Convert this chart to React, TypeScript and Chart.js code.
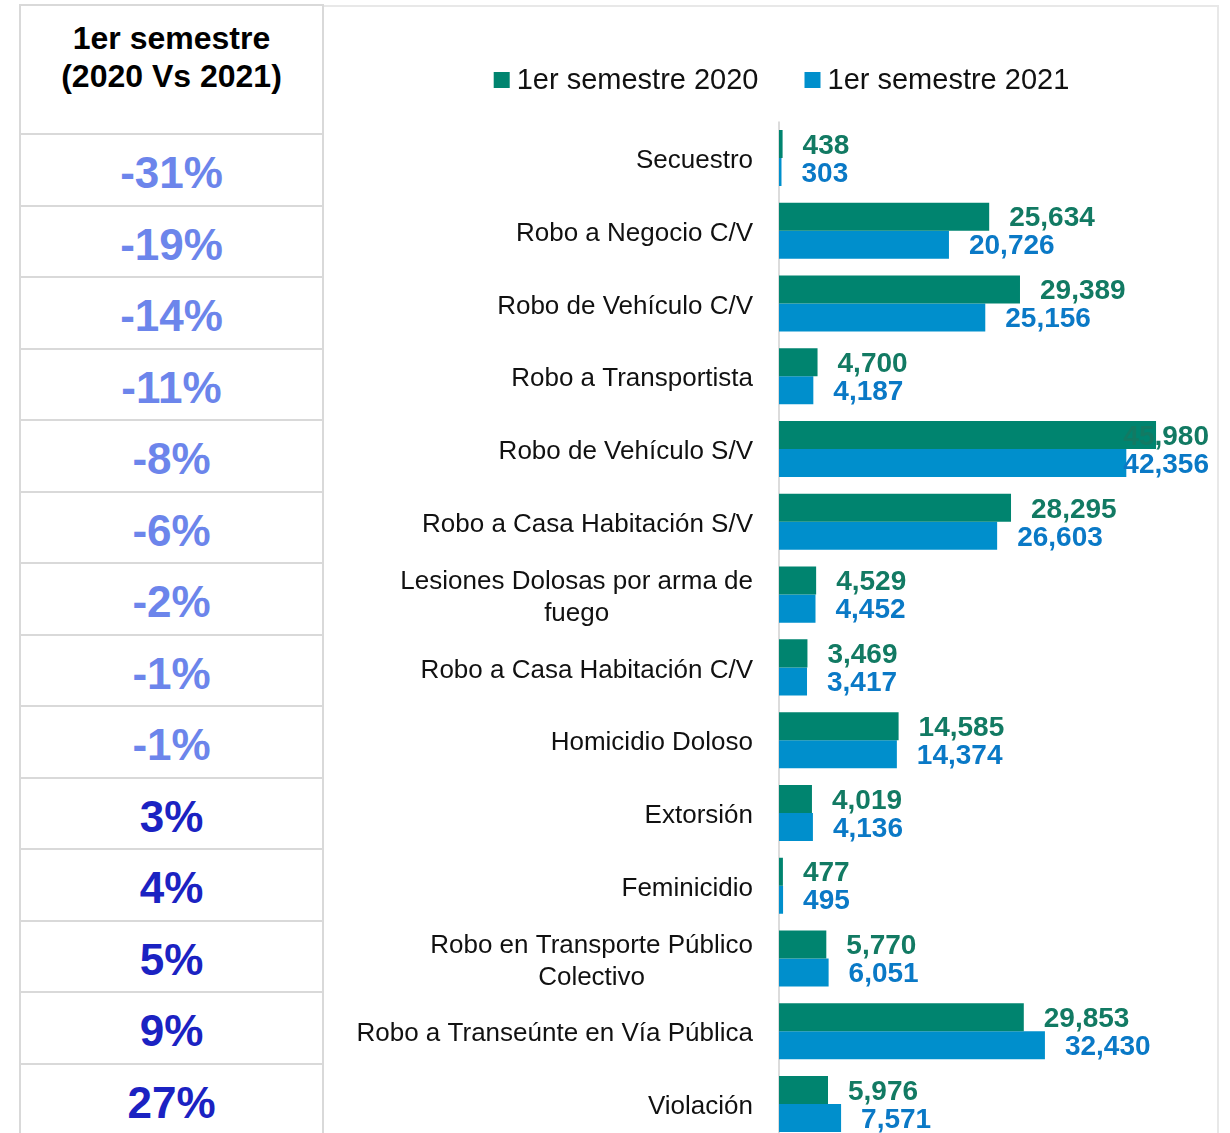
import React, { useEffect, useRef } from "react";
import { Chart, registerables } from "chart.js";

Chart.register(...registerables);

const categories: (string | string[])[] = [
  "Secuestro",
  "Robo a Negocio C/V",
  "Robo de Vehículo C/V",
  "Robo a Transportista",
  "Robo de Vehículo S/V",
  "Robo a Casa Habitación S/V",
  ["Lesiones Dolosas por arma de", "fuego"],
  "Robo a Casa Habitación C/V",
  "Homicidio Doloso",
  "Extorsión",
  "Feminicidio",
  ["Robo en Transporte Público", "Colectivo"],
  "Robo a Transeúnte en Vía Pública",
  "Violación",
];

const series2020 = [438, 25634, 29389, 4700, 45980, 28295, 4529, 3469, 14585, 4019, 477, 5770, 29853, 5976];
const series2021 = [303, 20726, 25156, 4187, 42356, 26603, 4452, 3417, 14374, 4136, 495, 6051, 32430, 7571];

const seriesLabels = ["1er semestre 2020", "1er semestre 2021"];

const tableHeader = ["1er semestre", "(2020 Vs 2021)"];
const changeLabels = ["-31%", "-19%", "-14%", "-11%", "-8%", "-6%", "-2%", "-1%", "-1%", "3%", "4%", "5%", "9%", "27%"];

const xMax = 50000;

const FONT = '"Liberation Sans", Arial, Helvetica, sans-serif';
const GREEN = "#00846f";
const BLUE = "#008fcc";
const GREEN_TXT = "#127a63";
const BLUE_TXT = "#0a79c6";

const customPlugin = {
  id: "customDraw",
  beforeDatasetsDraw(chart: any) {
    const { ctx, chartArea } = chart;
    ctx.save();
    ctx.strokeStyle = "#dcdcdc";
    ctx.lineWidth = 2;
    ctx.beginPath();
    ctx.moveTo(chartArea.left, chartArea.top);
    ctx.lineTo(chartArea.left, chartArea.bottom);
    ctx.stroke();
    ctx.restore();
  },
  afterDatasetsDraw(chart: any) {
    const { ctx, chartArea } = chart;
    const yScale = chart.scales.y;
    ctx.save();
    // category labels
    ctx.font = `26px ${FONT}`;
    ctx.fillStyle = "#111";
    ctx.textBaseline = "middle";
    const rightX = chartArea.left - 26;
    chart.data.labels.forEach((lab: any, i: number) => {
      const cy = yScale.getPixelForValue(i);
      const lines: string[] = Array.isArray(lab) ? lab : [lab];
      const lh = 32;
      const widths = lines.map((l) => ctx.measureText(l).width);
      const maxW = Math.max(...widths);
      const cx = rightX - maxW / 2;
      lines.forEach((l, k) => {
        const y = cy + (k - (lines.length - 1) / 2) * lh;
        ctx.textAlign = "center";
        ctx.fillText(l, cx, y + 3);
      });
    });
    // value labels
    ctx.font = `bold 28px ${FONT}`;
    ctx.textAlign = "left";
    const limit = chart.width - 11;
    chart.data.datasets.forEach((ds: any, di: number) => {
      const meta = chart.getDatasetMeta(di);
      ctx.fillStyle = di === 0 ? GREEN_TXT : BLUE_TXT;
      meta.data.forEach((el: any, i: number) => {
        const txt = Number(ds.data[i]).toLocaleString("en-US");
        const w = ctx.measureText(txt).width;
        let x = el.x + 20;
        if (x + w > limit) x = limit - w;
        ctx.fillText(txt, x, el.y + 2);
      });
    });
    // legend
    ctx.font = `29px ${FONT}`;
    const box = 16;
    const gapBox = 7;
    const gapItems = 46;
    const items = chart.data.datasets.map((ds: any) => ({
      label: ds.label,
      color: ds.backgroundColor,
      w: box + gapBox + ctx.measureText(ds.label).width,
    }));
    const total = items.reduce((s: number, it: any) => s + it.w, 0) + gapItems * (items.length - 1);
    let lx = 456.5 - total / 2;
    const ly = 75;
    items.forEach((it: any) => {
      ctx.fillStyle = it.color;
      ctx.fillRect(lx, ly - box / 2, box, box);
      ctx.fillStyle = "#111";
      ctx.textAlign = "left";
      ctx.fillText(it.label, lx + box + gapBox, ly + 1);
      lx += it.w + gapItems;
    });
    ctx.restore();
  },
};

function ChartPanel() {
  const ref = useRef<HTMLCanvasElement>(null);
  useEffect(() => {
    if (!ref.current) return;
    const chart = new Chart(ref.current, {
      type: "bar",
      data: {
        labels: categories as any,
        datasets: [
          { label: seriesLabels[0], data: series2020, backgroundColor: GREEN, borderWidth: 0 },
          { label: seriesLabels[1], data: series2021, backgroundColor: BLUE, borderWidth: 0 },
        ],
      },
      options: {
        indexAxis: "y",
        animation: false,
        responsive: false,
        devicePixelRatio: 1,
        layout: { padding: { left: 454, top: 116.6, right: 31, bottom: 4.6 } },
        datasets: { bar: { categoryPercentage: 0.77, barPercentage: 1.0 } },
        scales: {
          x: { display: false, min: 0, max: xMax },
          y: { display: false },
        },
        plugins: { legend: { display: false }, tooltip: { enabled: false } },
      },
      plugins: [customPlugin],
    });
    return () => chart.destroy();
  }, []);
  return (
    <canvas
      ref={ref}
      width={895}
      height={1140}
      style={{ position: "absolute", left: 325, top: 5, width: 895, height: 1140 }}
    />
  );
}

export default function App() {
  const rowTop = 133;
  const rowH = 71.5;
  const lineColor = "#d9d9d9";
  return (
    <div
      style={{
        position: "absolute",
        left: 0,
        top: 0,
        width: 1230,
        height: 1133,
        overflow: "hidden",
        background: "#fff",
        fontFamily: FONT,
      }}
    >
      {/* chart panel border */}
      <div
        style={{
          position: "absolute",
          left: 323,
          top: 5,
          width: 896,
          height: 1200,
          borderTop: "2px solid #e8e8e8",
          borderRight: "2px solid #e8e8e8",
          boxSizing: "border-box",
        }}
      />
      <ChartPanel />
      {/* table */}
      <div
        style={{
          position: "absolute",
          left: 19,
          top: 4,
          width: 305,
          height: 1200,
          borderLeft: `2px solid ${lineColor}`,
          borderRight: `2px solid ${lineColor}`,
          borderTop: `2px solid ${lineColor}`,
          boxSizing: "border-box",
        }}
      />
      <div
        style={{
          position: "absolute",
          left: 21,
          top: 19,
          width: 301,
          textAlign: "center",
          fontWeight: "bold",
          fontSize: 32,
          lineHeight: "38px",
          color: "#000",
        }}
      >
        {tableHeader.map((t, i) => (
          <div key={i}>{t}</div>
        ))}
      </div>
      {changeLabels.map((t, i) => {
        const neg = t.startsWith("-");
        return (
          <div
            key={i}
            style={{
              position: "absolute",
              left: 21,
              top: rowTop + i * rowH,
              width: 301,
              height: rowH,
              borderTop: `2px solid ${lineColor}`,
              boxSizing: "border-box",
              display: "flex",
              alignItems: "center",
              justifyContent: "center",
              paddingTop: 7,
              fontWeight: "bold",
              fontSize: 44,
              color: neg ? "#6c85eb" : "#1b22c2",
            }}
          >
            {t}
          </div>
        );
      })}
    </div>
  );
}
